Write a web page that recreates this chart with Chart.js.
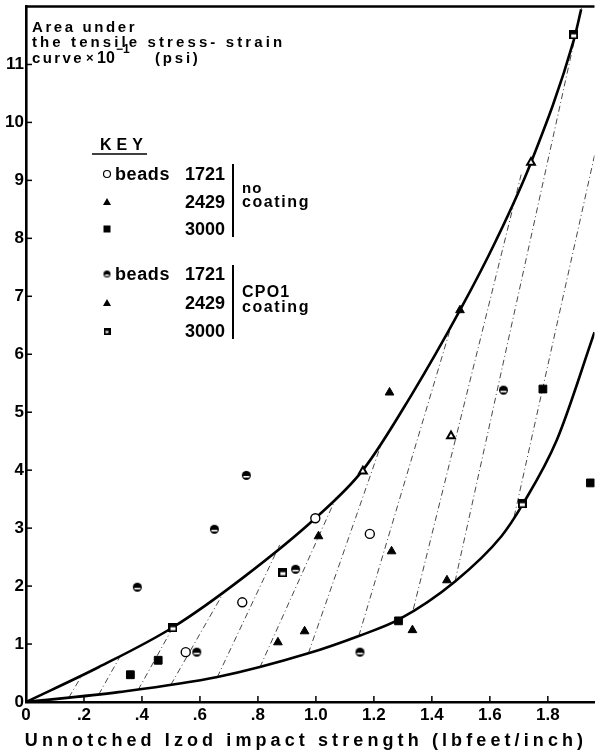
<!DOCTYPE html>
<html><head><meta charset="utf-8">
<script src="https://cdn.jsdelivr.net/npm/chart.js@4/dist/chart.umd.min.js"></script>
<style>html,body{margin:0;padding:0;background:#fff;}canvas{display:block;}</style>
</head><body>
<canvas id="c" width="601" height="751"></canvas>
<script>
// ---- tick labels ----
const xTickValues = [0, 0.2, 0.4, 0.6, 0.8, 1.0, 1.2, 1.4, 1.6, 1.8];
const xTickLabels = ['0', '.2', '.4', '.6', '.8', '1.0', '1.2', '1.4', '1.6', '1.8'];
const yTickValues = [0, 1, 2, 3, 4, 5, 6, 7, 8, 9, 10, 11];
const yTickLabels = ['0', '1', '2', '3', '4', '5', '6', '7', '8', '9', '10', '11'];

// ---- series (x = impact strength, y = area) ----
const beads1721NoCoating = [[0.551, 0.86], [0.746, 1.72], [0.998, 3.17], [1.186, 2.90]];
const beads2429NoCoating = [[0.869, 1.03], [0.961, 1.22], [1.009, 2.86], [1.254, 5.34], [1.261, 2.60], [1.333, 1.24], [1.452, 2.10], [1.497, 6.76]];
const beads3000NoCoating = [[0.360, 0.47], [0.456, 0.72], [1.285, 1.40], [1.783, 5.40], [1.947, 3.78]];
const beads1721CPO1 = [[0.384, 1.98], [0.589, 0.86], [0.650, 2.98], [0.760, 3.91], [0.930, 2.29], [1.152, 0.86], [1.647, 5.38]];
const beads2429CPO1 = [[1.162, 3.98], [1.466, 4.59], [1.742, 9.31]];
const beads3000CPO1 = [[0.507, 1.29], [0.886, 2.24], [1.712, 3.43], [1.889, 11.52]];

// ---- envelope curves ----
const upperCurve = [[0, 0], [0.25, 0.6], [0.507, 1.29], [0.75, 2.15], [0.998, 3.17], [1.162, 4.0], [1.33, 5.3], [1.497, 6.76], [1.62, 7.95], [1.742, 9.31], [1.889, 11.41], [1.915, 11.95]];
const lowerCurve = [[0, 0], [0.319, 0.17], [0.660, 0.43], [0.974, 0.84], [1.148, 1.14], [1.285, 1.42], [1.48, 2.08], [1.64, 2.86], [1.712, 3.40], [1.831, 4.52], [1.961, 6.38]];

// ---- hatching between the curves: [x0, y0, x1, y1] ----
const hatchLines = [
  [0.148, 0.08, 0.193, 0.46],
  [0.251, 0.13, 0.326, 0.80],
  [0.387, 0.21, 0.507, 1.29],
  [0.500, 0.30, 0.684, 1.91],
  [0.660, 0.43, 0.875, 2.71],
  [0.807, 0.60, 1.070, 3.53],
  [0.974, 0.84, 1.227, 4.47],
  [1.148, 1.14, 1.462, 6.41],
  [1.336, 1.60, 1.708, 9.10],
  [1.480, 2.08, 1.916, 11.97],
  [1.684, 3.20, 1.961, 9.43]
];

const X_MAX = 1.961, Y_MAX = 12;
const FONT = "'Liberation Sans', Arial, sans-serif";

const pts = arr => arr.map(p => ({x: p[0], y: p[1]}));
const hatchData = [];
hatchLines.forEach(h => { hatchData.push({x: h[0], y: h[1]}, {x: h[2], y: h[3]}, {x: h[2], y: null}); });

function mk(w, h, draw) { const c = document.createElement('canvas'); c.width = w; c.height = h; draw(c.getContext('2d'), w, h); return c; }
function halfCircleImg(d) {
  return mk(d + 2, d + 2, (g, w, h) => {
    const r = d / 2;
    g.fillStyle = '#000'; g.beginPath(); g.arc(w / 2, h / 2, r, 0, Math.PI * 2); g.fill();
    g.fillStyle = '#fff'; g.fillRect(w / 2 - r + 1.5, h / 2 + 0.5, 2 * r - 3, 1.6);
  });
}
function boxImg(d) {
  return mk(d, d, (g, w, h) => {
    g.fillStyle = '#000'; g.fillRect(0, 0, w, h);
    g.fillStyle = '#fff'; g.fillRect(2, Math.round(h / 2) - 0.5, w - 4, Math.max(2, Math.round(h / 2) - 2));
  });
}
const halfCirc = halfCircleImg(9);
const box = boxImg(9);

function txt(ctx, s, x, y, size, ls, align) {
  ctx.font = 'bold ' + size + 'px ' + FONT;
  ctx.letterSpacing = ls + 'px';
  ctx.textAlign = align || 'left';
  ctx.textBaseline = 'alphabetic';
  ctx.fillStyle = '#000';
  ctx.fillText(s, x, y);
  ctx.letterSpacing = '0px';
}
function marker(ctx, kind, x, y) {
  ctx.save();
  ctx.fillStyle = '#000'; ctx.strokeStyle = '#000';
  if (kind === 'circle') { ctx.lineWidth = 1.2; ctx.beginPath(); ctx.arc(x, y, 3.5, 0, Math.PI * 2); ctx.fillStyle = '#fff'; ctx.fill(); ctx.stroke(); }
  else if (kind === 'tri') { ctx.beginPath(); ctx.moveTo(x, y - 4); ctx.lineTo(x + 4, y + 3); ctx.lineTo(x - 4, y + 3); ctx.closePath(); ctx.fill(); }
  else if (kind === 'sq') { ctx.fillRect(x - 3.5, y - 3.5, 7, 7); }
  else if (kind === 'half') { ctx.drawImage(halfCircleImg(7), x - 4.5, y - 4.5); }
  else if (kind === 'box') { ctx.drawImage(boxImg(7), x - 3.5, y - 3.5); }
  ctx.restore();
}

const decor = {
  id: 'decor',
  afterDraw(chart) {
    const ctx = chart.ctx, a = chart.chartArea, xs = chart.scales.x, ys = chart.scales.y;
    ctx.save();
    // top frame line
    ctx.strokeStyle = '#000'; ctx.lineWidth = 2.5;
    ctx.beginPath(); ctx.moveTo(a.left - 1, a.top); ctx.lineTo(a.right, a.top); ctx.stroke();
    // inside tick marks
    ctx.lineWidth = 1.5;
    xTickValues.forEach(v => { const px = xs.getPixelForValue(v); if (v === 0) return; ctx.beginPath(); ctx.moveTo(px, a.bottom); ctx.lineTo(px, a.bottom - 6); ctx.stroke(); });
    yTickValues.forEach(v => { const py = ys.getPixelForValue(v); if (v === 0) return; ctx.beginPath(); ctx.moveTo(a.left, py); ctx.lineTo(a.left + 6, py); ctx.stroke(); });

    // y-axis title block
    txt(ctx, 'Area under', 32, 32, 15, 2.6);
    txt(ctx, 'the tensile stress- strain', 32, 47, 15, 3.1);
    txt(ctx, 'curve', 32, 63, 15, 2.4);
    txt(ctx, '\u00d7', 86, 62, 13, 0);
    txt(ctx, '10', 97, 63, 16, 0);
    txt(ctx, '\u22121', 116, 53, 12, 0);
    txt(ctx, '(psi)', 155, 63, 15, 2.8);

    // key
    txt(ctx, 'KEY', 100, 150, 16, 5);
    ctx.lineWidth = 1.5; ctx.beginPath(); ctx.moveTo(92, 154); ctx.lineTo(147, 154); ctx.stroke();
    const rows = [
      ['circle', 'beads', '1721', 174], ['tri', '', '2429', 202], ['sq', '', '3000', 229],
      ['half', 'beads', '1721', 274], ['tri', '', '2429', 303], ['box', '', '3000', 331]
    ];
    rows.forEach(r => {
      marker(ctx, r[0], 107, r[3]);
      if (r[1]) txt(ctx, r[1], 115, r[3] + 6, 18, 0.6);
      txt(ctx, r[2], 185, r[3] + 6, 18, 0);
    });
    ctx.lineWidth = 2;
    ctx.beginPath(); ctx.moveTo(233, 164); ctx.lineTo(233, 237); ctx.stroke();
    ctx.beginPath(); ctx.moveTo(233, 265); ctx.lineTo(233, 339); ctx.stroke();
    txt(ctx, 'no', 242, 193, 15, 1);
    txt(ctx, 'coating', 242, 207, 16, 1.6);
    txt(ctx, 'CPO1', 242, 297, 16, 1.2);
    txt(ctx, 'coating', 242, 312, 16, 1.6);

    // x-axis title
    txt(ctx, 'Unnotched Izod impact strength (lbfeet/inch)', 306, 746, 18, 4.1, 'center');
    ctx.restore();
  }
};

const tickFont = {family: FONT, weight: 'bold', size: 17};

new Chart(document.getElementById('c'), {
  type: 'scatter',
  data: {
    datasets: [
      {label: 'upper', data: pts(upperCurve), showLine: true, borderColor: '#000', borderWidth: 2.6, pointRadius: 0, cubicInterpolationMode: 'monotone', order: 3},
      {label: 'lower', data: pts(lowerCurve), showLine: true, borderColor: '#000', borderWidth: 2.6, pointRadius: 0, cubicInterpolationMode: 'monotone', order: 3},
      {label: 'hatch', data: hatchData, showLine: true, spanGaps: false, borderColor: '#333', borderWidth: 0.9, borderDash: [6, 3, 1, 3], pointRadius: 0, order: 4},
      {label: 'beads 1721 no coating', data: pts(beads1721NoCoating), pointStyle: 'circle', pointRadius: 4.5, backgroundColor: '#fff', borderColor: '#000', borderWidth: 1.4},
      {label: '2429 no coating', data: pts(beads2429NoCoating), pointStyle: 'triangle', pointRadius: 5, backgroundColor: '#000', borderColor: '#000', borderWidth: 1},
      {label: '3000 no coating', data: pts(beads3000NoCoating), pointStyle: 'rect', pointRadius: 5.5, backgroundColor: '#000', borderColor: '#000', borderWidth: 1},
      {label: 'beads 1721 CPO1 coating', data: pts(beads1721CPO1), pointStyle: halfCirc, pointRadius: 4.5},
      {label: '2429 CPO1 coating', data: pts(beads2429CPO1), pointStyle: 'triangle', pointRadius: 4.5, backgroundColor: '#fff', borderColor: '#000', borderWidth: 2},
      {label: '3000 CPO1 coating', data: pts(beads3000CPO1), pointStyle: box, pointRadius: 4.5}
    ]
  },
  options: {
    responsive: false, animation: false, devicePixelRatio: 1,
    layout: {padding: {top: 5, right: 0, left: 0, bottom: 0}},
    plugins: {legend: {display: false}, tooltip: {enabled: false}},
    scales: {
      x: {
        type: 'linear', min: 0, max: X_MAX,
        afterBuildTicks: s => { s.ticks = xTickValues.map(v => ({value: v})); },
        afterFit: s => { s.height = 49; s.paddingLeft = 0; s.paddingRight = 0; },
        ticks: {callback: (v, i) => xTickLabels[i], font: tickFont, color: '#000', padding: 3, maxRotation: 0, autoSkip: false},
        grid: {drawOnChartArea: false, drawTicks: false},
        border: {display: true, width: 2.6, color: '#000'}
      },
      y: {
        type: 'linear', min: 0, max: Y_MAX,
        afterBuildTicks: s => { s.ticks = yTickValues.map(v => ({value: v})); },
        afterFit: s => { s.width = 26; s.paddingTop = 0; s.paddingBottom = 0; },
        ticks: {callback: (v, i) => yTickLabels[i], font: tickFont, color: '#000', padding: 2, autoSkip: false},
        grid: {drawOnChartArea: false, drawTicks: false},
        border: {display: true, width: 2.6, color: '#000'}
      }
    }
  },
  plugins: [decor]
});
</script>
</body></html>
